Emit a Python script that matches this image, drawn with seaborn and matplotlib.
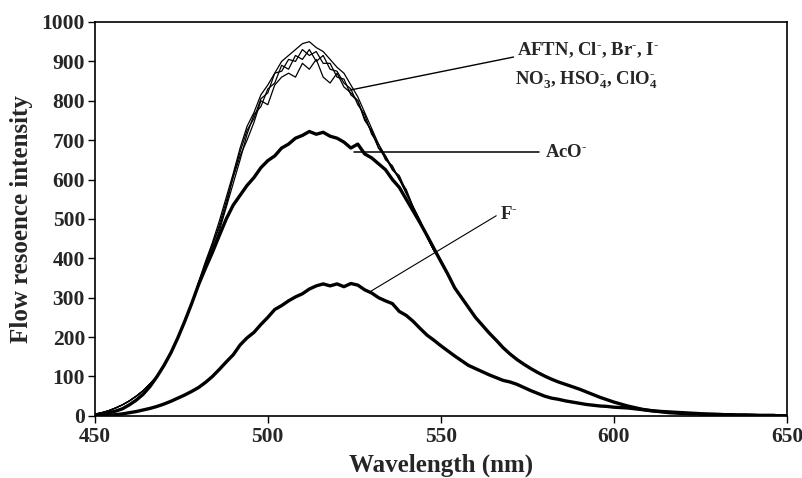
import numpy as np
import pandas as pd
import matplotlib
matplotlib.use("Agg")
import matplotlib.pyplot as plt
import seaborn as sns

# wavelength grid (nm), 2 nm steps
wavelength = list(range(450, 651, 2))

# shared tails of the AFTN / Cl- / Br- / I- / NO3- / HSO4- / ClO4- bundle
bundle_head = [4, 8, 13, 20, 28, 38, 50, 64, 82, 100, 128, 160, 198, 240, 285]          # 450-478
bundle_tail = [530, 495, 455, 420, 395, 360, 325, 300, 275, 250, 230, 210, 192, 173, 157,
               143, 131, 120, 110, 101, 93, 86, 80, 74, 68, 61, 54, 47, 41, 35, 30, 25, 21,
               17, 14, 12, 10, 8, 7, 6, 5, 5, 4, 4, 3, 3, 2, 2, 2, 1, 1, 1, 1, 0, 0]         # 542-650

# peak region 480-540 for each trace of the bundle
trace_a = [340, 392, 440, 495, 555, 615, 680, 735, 770, 815, 840, 870, 900, 915, 930, 945,
           950, 935, 925, 905, 885, 870, 840, 810, 770, 730, 690, 660, 630, 600, 565]
trace_b = [330, 380, 425, 470, 530, 590, 650, 715, 765, 785, 830, 845, 890, 880, 915, 905,
           930, 900, 915, 880, 875, 845, 830, 790, 765, 715, 690, 650, 635, 600, 575]
trace_c = [338, 388, 432, 485, 545, 605, 660, 700, 745, 800, 790, 840, 860, 870, 860, 895,
           880, 905, 860, 845, 870, 835, 820, 800, 750, 725, 680, 660, 625, 610, 570]
trace_d = [332, 383, 436, 478, 535, 610, 670, 725, 755, 805, 820, 870, 875, 905, 900, 930,
           915, 925, 895, 895, 860, 855, 815, 800, 755, 720, 680, 655, 625, 605, 565]

aco = [2, 5, 8, 12, 18, 28, 40, 55, 75, 100, 128, 160, 198, 240, 285, 333, 375, 415, 458,
       500, 535, 560, 585, 605, 630, 648, 660, 680, 690, 705, 712, 722, 715, 720, 710, 705,
       695, 680, 690, 665, 655, 640, 625, 600, 580, 550, 520, 490, 458, 425, 392, 360, 325,
       300, 275, 250, 230, 210, 192, 173, 157, 143, 131, 120, 110, 101, 93, 86, 80, 74, 68,
       61, 54, 47, 41, 35, 30, 25, 21, 17, 14, 12, 10, 8, 7, 6, 5, 5, 4, 4, 3, 3, 2, 2, 2,
       1, 1, 1, 1, 0, 0]

fluoride = [0, 1, 2, 3, 5, 8, 11, 15, 19, 24, 30, 37, 45, 53, 62, 72, 85, 100, 118, 137,
            155, 180, 198, 212, 232, 250, 270, 280, 292, 302, 310, 322, 330, 335, 330, 335,
            328, 336, 332, 320, 312, 300, 292, 285, 265, 255, 240, 222, 205, 192, 178, 165,
            152, 140, 128, 120, 112, 104, 97, 90, 86, 80, 72, 64, 57, 50, 45, 42, 38, 35, 32,
            29, 27, 25, 24, 22, 21, 20, 18, 16, 14, 12, 11, 10, 9, 8, 7, 6, 5, 4, 4, 3, 3, 2,
            2, 2, 1, 1, 1, 0, 0]

sns.set_style("ticks")
plt.rcParams['font.family'] = ['Liberation Serif', 'DejaVu Serif']
plt.rcParams['font.weight'] = 'bold'
plt.rcParams['mathtext.fontset'] = 'custom'
plt.rcParams['mathtext.rm'] = 'Liberation Serif:bold'
plt.rcParams['mathtext.it'] = 'Liberation Serif:bold'
plt.rcParams['mathtext.bf'] = 'Liberation Serif:bold'

fig = plt.figure(figsize=(8.03, 4.78), dpi=100)
ax = fig.add_axes([0.118, 0.130, 0.862, 0.824])

for trace in [trace_a, trace_b, trace_c, trace_d]:
    y = bundle_head + trace + bundle_tail
    df = pd.DataFrame({'wl': wavelength, 'I': y})
    sns.lineplot(data=df, x='wl', y='I', color='black', linewidth=0.9, ax=ax, estimator=None)

for y in [aco, fluoride]:
    df = pd.DataFrame({'wl': wavelength, 'I': y})
    sns.lineplot(data=df, x='wl', y='I', color='black', linewidth=2.4, ax=ax, estimator=None)

# annotation leaders and labels
ax.plot([523.7, 571.0], [827, 911], color='black', linewidth=1.0)
ax.plot([525.0, 578.5], [670, 670], color='black', linewidth=1.1)
ax.plot([529.5, 566.0], [315, 508], color='black', linewidth=0.8)

sup = r'$^{\text{-}}$'
ax.text(572, 929, 'AFTN, Cl' + sup + ', Br' + sup + ', I' + sup,
        fontsize=13.5, fontweight='bold', va='center')
ax.text(571.5, 853, r'NO$_{3}^{\text{-}}$, HSO$_{4}^{\text{-}}$, ClO$_{4}^{\text{-}}$',
        fontsize=13.5, fontweight='bold', va='center')
ax.text(580, 668, 'AcO' + sup, fontsize=13.5, fontweight='bold', va='center')
ax.text(567, 512, 'F' + sup, fontsize=13.5, fontweight='bold', va='center')

ax.set_xlim(450, 650)
ax.set_ylim(0, 1000)
ax.set_xticks([450, 500, 550, 600, 650])
ax.set_yticks(list(range(0, 1001, 100)))
ax.tick_params(axis='both', labelsize=15.5, direction='out', length=5, width=1, color='black')
ax.tick_params(axis='x', pad=3)
ax.tick_params(axis='y', pad=2)
for lbl in ax.get_xticklabels() + ax.get_yticklabels():
    lbl.set_fontweight('bold')

ax.set_xlabel('Wavelength (nm)', fontsize=18, fontweight='bold', labelpad=5)
ax.set_ylabel('Flow resoence intensity', fontsize=18, fontweight='bold', labelpad=6)

for side in ['top', 'right', 'left', 'bottom']:
    ax.spines[side].set_visible(True)
    ax.spines[side].set_color('black')
    ax.spines[side].set_linewidth(1.2)

fig.savefig('out.png', dpi=100)
